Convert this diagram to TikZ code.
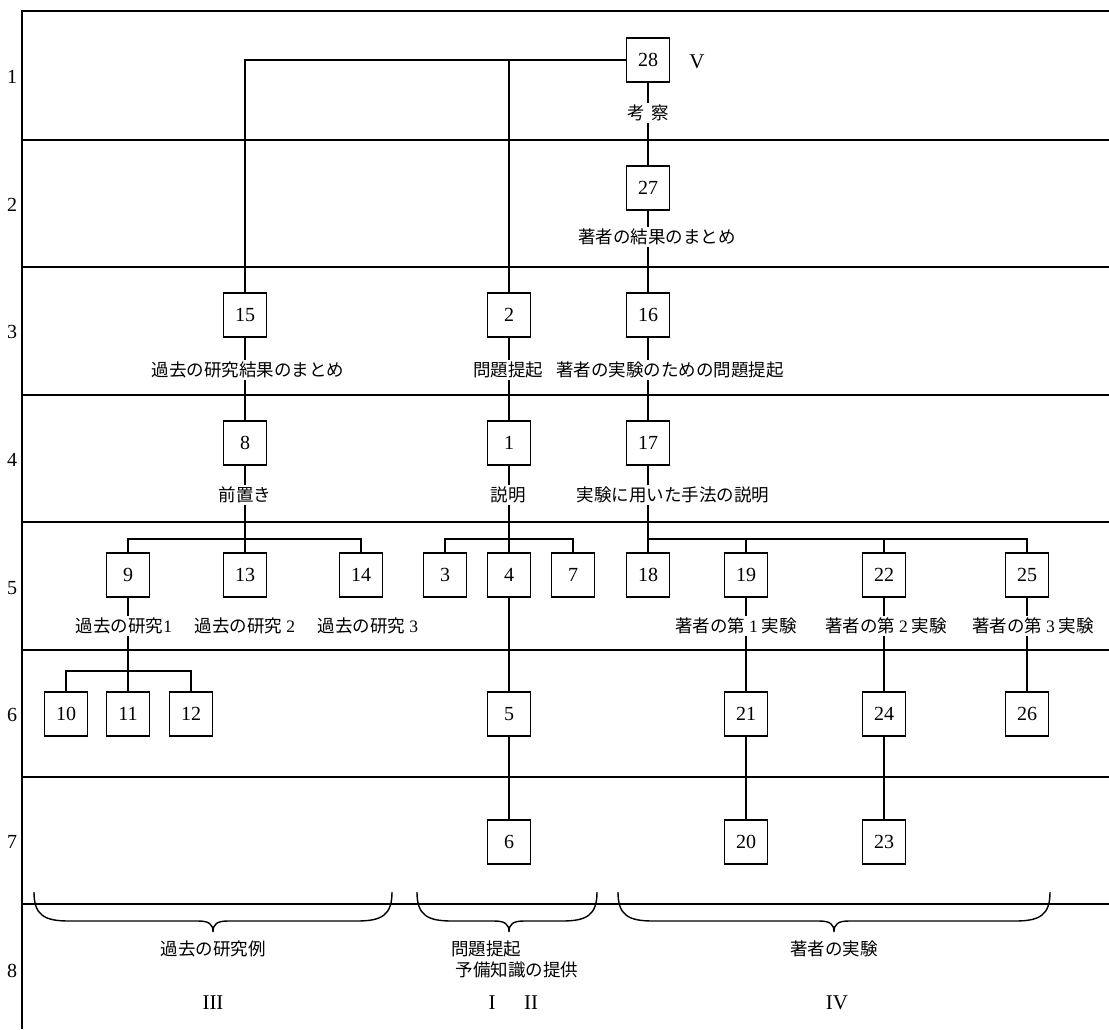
\documentclass[tikz,border=0pt]{standalone}
\usepackage{fontspec}
\setmainfont{Liberation Serif}
\newfontfamily\cjk{Noto Sans CJK JP}
\begin{document}
\begin{tikzpicture}[x=1pt,y=-1pt,line width=1.3pt,
  bx/.style={draw,minimum width=43pt,minimum height=44pt,inner sep=0pt,font=\fontsize{20}{24}\selectfont},
  lbl/.style={inner sep=1.5pt,font=\fontsize{17.5}{20}\selectfont\cjk},
  rn/.style={inner sep=0pt,font=\fontsize{20}{24}\selectfont},
  roman/.style={inner sep=0pt,font=\fontsize{21}{24}\selectfont},
  brc/.style={line width=1.4pt}]
\useasboundingbox (0,0) rectangle (1109,1029);
% frame and row rules
\draw (22,1029) -- (22,11) -- (1109,11);
\foreach \y in {140,267,395,522,650,777,904} \draw (22,\y) -- (1109,\y);
% row numbers
\foreach \n/\y in {1/77,2/205,3/332,4/460,5/588,6/715,7/842,8/971}
  \node[rn] (r\n) at (12,\y) {\n};
% boxes
\node[bx] (b28) at (648,60) {28};
\node[roman] (v) at (697,62) {V};
\node[bx] (b27) at (648,188) {27};
\node[bx] (b15) at (245,315) {15};
\node[bx] (b2) at (509,315) {2};
\node[bx] (b16) at (648,315) {16};
\node[bx] (b8) at (245,443) {8};
\node[bx] (b1) at (509,443) {1};
\node[bx] (b17) at (648,443) {17};
\node[bx] (b9) at (128,575) {9};
\node[bx] (b13) at (245,575) {13};
\node[bx] (b14) at (361,575) {14};
\node[bx] (b3) at (445,575) {3};
\node[bx] (b4) at (509,575) {4};
\node[bx] (b7) at (573,575) {7};
\node[bx] (b18) at (648,575) {18};
\node[bx] (b19) at (746,575) {19};
\node[bx] (b22) at (884,575) {22};
\node[bx] (b25) at (1027,575) {25};
\node[bx] (b10) at (66,714) {10};
\node[bx] (b11) at (128,714) {11};
\node[bx] (b12) at (191,714) {12};
\node[bx] (b5) at (509,714) {5};
\node[bx] (b21) at (746,714) {21};
\node[bx] (b24) at (884,714) {24};
\node[bx] (b26) at (1027,714) {26};
\node[bx] (b6) at (509,842) {6};
\node[bx] (b20) at (746,842) {20};
\node[bx] (b23) at (884,842) {23};
% labels
\node[lbl] (t28) at (648,113) {考\hspace{0.4em}察};
\node[lbl] (t27) at (657,237) {著者の結果のまとめ};
\node[lbl] (t15) at (248,370) {過去の研究結果のまとめ};
\node[lbl] (t2) at (508,370) {問題提起};
\node[lbl] (t16) at (670,370) {著者の実験のための問題提起};
\node[lbl] (t8) at (245,495) {前置き};
\node[lbl] (t1) at (508,495) {説明};
\node[lbl] (t17) at (673,495) {実験に用いた手法の説明};
\node[lbl] (t9) at (124,626) {過去の研究{\rmfamily 1}};
\node[lbl] (t13) at (245,626) {過去の研究 {\rmfamily 2}};
\node[lbl] (t14) at (368,626) {過去の研究 {\rmfamily 3}};
\node[lbl] (t19) at (736,626) {著者の第 {\rmfamily 1} 実験};
\node[lbl] (t22) at (886,626) {著者の第 {\rmfamily 2} 実験};
\node[lbl] (t25) at (1033,626) {著者の第 {\rmfamily 3} 実験};
% bottom group labels
\node[lbl] (g1) at (213,949) {過去の研究例};
\node[lbl] (g2a) at (486,949) {問題提起};
\node[lbl] (g2b) at (517,970) {予備知識の提供};
\node[lbl] (g3) at (834,949) {著者の実験};
\node[roman] (p3) at (213,1003) {III};
\node[roman] (p1) at (492,1003) {I};
\node[roman] (p2) at (531,1003) {II};
\node[roman] (p4) at (837,1003) {IV};
% connectors
\draw (b28.west) -| (b15.north);
\coordinate (j2) at (b2.north |- b28.west);
\draw (j2) -- (b2.north);
\draw (b28.south) -- (b28.south |- t28.north);
\draw (b27.north |- t28.south) -- (b27.north);
\draw (b27.south) -- (b27.south |- t27.north);
\draw (b16.north |- t27.south) -- (b16.north);
\draw (b16.south) -- (b16.south |- t16.north);
\draw (b17.north |- t16.south) -- (b17.north);
\draw (b15.south) -- (b15.south |- t15.north);
\draw (b8.north |- t15.south) -- (b8.north);
\draw (b2.south) -- (b2.south |- t2.north);
\draw (b1.north |- t2.south) -- (b1.north);
% branch under 8
\coordinate (k8) at (245,539);
\draw (b8.south) -- (b8.south |- t8.north);
\draw (b8.south |- t8.south) -- (k8) -- (b13.north);
\draw (b9.north) |- (b14.north |- k8) -- (b14.north);
% branch under 1
\coordinate (k1) at (509,539);
\draw (b1.south) -- (b1.south |- t1.north);
\draw (b1.south |- t1.south) -- (k1) -- (b4.north);
\draw (b3.north) |- (b7.north |- k1) -- (b7.north);
% branch under 17
\coordinate (k17) at (648,539);
\draw (b17.south) -- (b17.south |- t17.north);
\draw (b17.south |- t17.south) -- (k17) -- (b18.north);
\draw (k17) -| (b25.north);
\draw (b19.north |- k17) -- (b19.north);
\draw (b22.north |- k17) -- (b22.north);
% under 9
\coordinate (k9) at (128,671);
\draw (b9.south) -- (b9.south |- t9.north);
\draw (b9.south |- t9.south) -- (k9) -- (b11.north);
\draw (b10.north) |- (b12.north |- k9) -- (b12.north);
% column 4-5-6
\draw (b4.south) -- (b5.north);
\draw (b5.south) -- (b6.north);
% experiments
\draw (b19.south) -- (b19.south |- t19.north);
\draw (b19.south |- t19.south) -- (b21.north);
\draw (b21.south) -- (b20.north);
\draw (b22.south) -- (b22.south |- t22.north);
\draw (b22.south |- t22.south) -- (b24.north);
\draw (b24.south) -- (b23.north);
\draw (b25.south) -- (b25.south |- t25.north);
\draw (b25.south |- t25.south) -- (b26.north);
% braces
\foreach \L/\T/\R in {34/213/392, 417/509/597, 618/834/1050}{
  \draw[brc] (\L,892) .. controls (\L,915) and (\L+10,921) .. (\L+35,921)
    -- (\T-15,921) .. controls (\T-4,921) and (\T,924) .. (\T,932)
    .. controls (\T,924) and (\T+4,921) .. (\T+15,921)
    -- (\R-35,921) .. controls (\R-10,921) and (\R,915) .. (\R,892);
}
\end{tikzpicture}
\end{document}
